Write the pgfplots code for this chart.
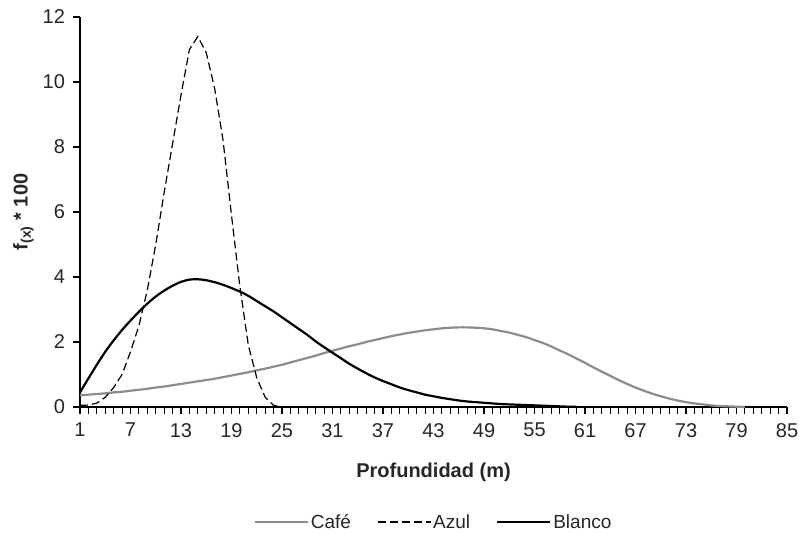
\documentclass[border=0pt]{standalone}
\usepackage{fontspec}
\setmainfont{Liberation Sans}
\usepackage{pgfplots}
\pgfplotsset{compat=1.18}
\usepackage{pgfplotstable}
\definecolor{cafe}{RGB}{140,140,140}

\pgfplotstableread{
x y
1 0.36
2 0.38
3 0.40
4 0.42
5 0.45
6 0.47
7 0.50
8 0.53
9 0.56
10 0.60
11 0.63
12 0.67
13 0.71
14 0.75
15 0.79
16 0.83
17 0.87
18 0.92
19 0.97
20 1.02
21 1.07
22 1.13
23 1.18
24 1.24
25 1.30
26 1.37
27 1.44
28 1.51
29 1.58
30 1.66
31 1.73
32 1.80
33 1.87
34 1.93
35 2.00
36 2.06
37 2.12
38 2.18
39 2.23
40 2.28
41 2.32
42 2.36
43 2.39
44 2.42
45 2.44
46 2.45
47 2.45
48 2.44
49 2.42
50 2.39
51 2.34
52 2.29
53 2.22
54 2.15
55 2.06
56 1.97
57 1.86
58 1.74
59 1.62
60 1.49
61 1.36
62 1.22
63 1.09
64 0.96
65 0.83
66 0.71
67 0.60
68 0.50
69 0.41
70 0.33
71 0.26
72 0.20
73 0.15
74 0.11
75 0.08
76 0.05
77 0.03
78 0.02
79 0.01
80 0.00
}\cafe

\pgfplotstableread{
x y
1 0.05
2 0.06
3 0.12
4 0.30
5 0.60
6 1.00
7 1.70
8 2.50
9 3.60
10 5.00
11 6.60
12 8.10
13 9.60
14 11.00
15 11.40
16 10.90
17 9.80
18 8.20
19 5.90
20 3.70
21 1.90
22 0.90
23 0.30
24 0.05
25 0.00
}\azul

\pgfplotstableread{
x y
1 0.45
2 0.88
3 1.30
4 1.70
5 2.05
6 2.37
7 2.66
8 2.93
9 3.18
10 3.40
11 3.58
12 3.73
13 3.85
14 3.92
15 3.93
16 3.90
17 3.84
18 3.76
19 3.66
20 3.55
21 3.42
22 3.26
23 3.10
24 2.94
25 2.76
26 2.58
27 2.40
28 2.22
29 2.02
30 1.84
31 1.67
32 1.50
33 1.33
34 1.18
35 1.04
36 0.91
37 0.80
38 0.70
39 0.60
40 0.52
41 0.45
42 0.38
43 0.33
44 0.28
45 0.24
46 0.20
47 0.17
48 0.15
49 0.13
50 0.11
51 0.09
52 0.08
53 0.07
54 0.06
55 0.05
56 0.04
57 0.03
58 0.02
59 0.01
60 0.01
}\blanco

\begin{document}
\begin{tikzpicture}
\path[use as bounding box] (-80pt,-128pt) rectangle (719pt,407pt);
\begin{axis}[
  at={(0pt,0pt)}, anchor=south west,
  scale only axis, width=707pt, height=390pt,
  xmin=1, xmax=85, ymin=0, ymax=12,
  axis x line*=bottom, axis y line*=left,
  xtick={1,7,...,85}, minor xtick={1,...,85}, ytick={0,2,...,12},
  tick align=outside, major tick length=6.5pt, minor tick length=6.5pt,
  tick style={black, line width=1.1pt},
  axis line style={black, line width=1.1pt},
  /pgf/number format/assume math mode=true,
  ticklabel style={font=\fontsize{20}{24}\selectfont, text=black!85},
  xticklabel style={yshift=-6pt},
  yticklabel style={xshift=-5pt},
  xlabel={\textbf{Profundidad (m)}},
  ylabel={\textbf{f\textsubscript{(x)} * 100}},
  every axis x label/.style={at={(axis description cs:0.5,-0.167)}, anchor=center, font=\fontsize{20}{24}\selectfont, text=black!85},
  every axis y label/.style={at={(axis description cs:-0.08,0.5)}, anchor=center, rotate=90, font=\fontsize{20}{24}\selectfont, text=black!85},
  legend columns=3,
  legend style={draw=none, fill=none, at={(axis description cs:0.5,-0.295)}, anchor=center,
    font=\fontsize{19}{22}\selectfont, text=black!85,
    /tikz/every even column/.append style={column sep=24pt}},
  legend image code/.code={\draw[#1] (0pt,0pt) -- (53pt,0pt);},
]
\addplot[cafe, line width=2.2pt, smooth] table {\cafe};
\addlegendentry{Café}
\addplot[black, line width=1.2pt, dash pattern=on 8pt off 4pt] table {\azul};
\addlegendentry{Azul}
\addplot[black, line width=2.2pt, smooth] table {\blanco};
\addlegendentry{Blanco}
\end{axis}
\end{tikzpicture}
\end{document}
